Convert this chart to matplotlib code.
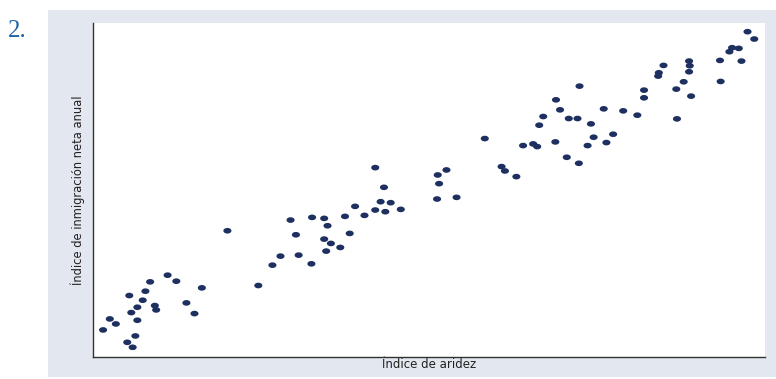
import matplotlib
matplotlib.use('Agg')
import matplotlib.pyplot as plt
from matplotlib.patches import Rectangle
import numpy as np

# indice de aridez (x) e indice de inmigracion neta anual (y), escala 0-100
aridez = [1.5, 2.5, 3.4, 5.1, 5.9, 6.3, 5.4, 5.7, 6.6, 6.6, 7.4, 7.8, 8.5, 9.2, 9.4,
          11.1, 12.4, 13.9, 15.1, 16.2, 20.0, 24.6, 26.7, 27.9, 29.4, 30.2, 30.6,
          32.5, 32.6, 34.4, 34.9, 34.4, 35.4, 34.7, 36.8, 37.5, 38.2, 39.0, 40.4,
          42.0, 42.0, 43.3, 42.8, 43.5, 44.3, 45.8, 51.3, 52.6, 51.5, 51.2, 54.1,
          58.3, 60.8, 61.3, 63.0, 64.0, 65.5, 66.1, 66.4, 67.0, 68.8, 68.9, 69.5,
          70.5, 70.8, 72.1, 72.3, 72.4, 73.6, 74.1, 74.5, 76.0, 76.4, 77.4, 78.9,
          81.0, 82.0, 82.0, 84.1, 84.2, 84.9, 86.8, 86.9, 87.9, 88.7, 88.8, 88.7,
          89.0, 93.3, 93.4, 94.7, 95.1, 96.1, 96.5, 97.4, 98.4]
inmigracion = [8.1, 11.4, 9.9, 4.4, 2.9, 6.3, 18.4, 13.3, 14.9, 11.0, 17.0, 19.7, 22.5,
               15.4, 14.1, 24.5, 22.7, 16.2, 13.0, 20.7, 37.8, 21.4, 27.5, 30.2, 41.0,
               36.6, 30.5, 27.9, 41.8, 41.5, 39.3, 35.3, 34.0, 31.7, 32.8, 42.1, 37.0,
               45.1, 42.4, 44.0, 56.7, 50.8, 46.5, 43.5, 46.2, 44.2, 54.5, 56.0, 51.9,
               47.3, 47.8, 65.4, 57.0, 55.7, 54.0, 63.3, 63.8, 63.0, 69.4, 72.0, 64.4,
               77.0, 74.0, 59.8, 71.4, 71.4, 58.0, 81.1, 63.3, 69.8, 65.8, 74.3, 64.2,
               66.7, 73.7, 72.4, 79.9, 77.6, 84.1, 85.1, 87.3, 80.2, 71.3, 82.4, 88.6,
               87.2, 85.4, 78.1, 88.8, 82.5, 91.4, 92.6, 92.4, 88.6, 97.4, 95.2]

W, H = 776, 379
fig = plt.figure(figsize=(W / 100, H / 100), dpi=100)
fig.patch.set_facecolor('white')

# panel gris de fondo
fig.patches.append(Rectangle((48 / W, 1 - 377 / H), (W - 48) / W, (377 - 10) / H,
                             transform=fig.transFigure, facecolor='#e3e7f0',
                             edgecolor='none', zorder=-10))

fig.text(8 / W, 1 - 31 / H, '2.', color='#1f62a8', fontsize=18,
         family='Liberation Serif', va='center', ha='left')

# marcador eliptico (mas ancho que alto)
t = np.linspace(0, 2 * np.pi, 30)
elipse = np.column_stack([np.cos(t), 0.7 * np.sin(t)])

ax = fig.add_axes([93 / W, 1 - 357 / H, (765 - 93) / W, (357 - 23) / H], zorder=5)
ax.set_facecolor('white')
ax.scatter(aridez, inmigracion, s=34, color='#1e3060', marker=elipse,
           edgecolors='none', zorder=3)
ax.set_xlim(0, 100)
ax.set_ylim(0, 100)
ax.set_xticks([])
ax.set_yticks([])
for s in ['top', 'right']:
    ax.spines[s].set_visible(False)
for s in ['left', 'bottom']:
    ax.spines[s].set_color('#333333')
    ax.spines[s].set_linewidth(1.0)

ax.set_xlabel('Índice de aridez', fontsize=8.5, labelpad=1, color='#222222')
ax.set_ylabel('Índice de inmigración neta anual', fontsize=8.3, labelpad=6,
              color='#222222')

fig.savefig('out.png', dpi=100)
